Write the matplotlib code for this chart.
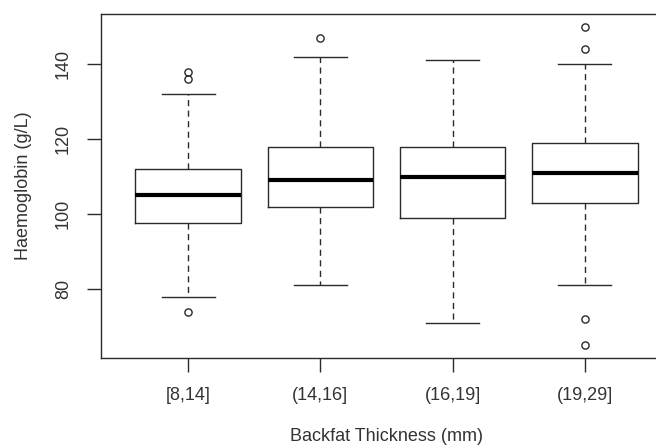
import matplotlib
matplotlib.use("Agg")
import matplotlib.pyplot as plt

plt.rcParams['font.family'] = ['Liberation Sans', 'DejaVu Sans']

# data
groups = ['[8,14]', '(14,16]', '(16,19]', '(19,29]']
q1 = [97.7, 102, 99, 103]
med = [105, 109, 110, 111]
q3 = [112, 118, 118, 119]
whislo = [78, 81, 71, 81]
whishi = [132, 142, 141, 140]
outliers = [[138, 136, 74], [147], [], [150, 144, 72, 65]]

stats = []
for i in range(len(groups)):
    stats.append(dict(label=groups[i], q1=q1[i], med=med[i], q3=q3[i],
                      whislo=whislo[i], whishi=whishi[i], fliers=outliers[i]))

fig = plt.figure(figsize=(6.56, 4.46), dpi=100)
ax = fig.add_axes([101/656, 88/446, 571/656, 344/446])

col = '#2a2a2a'
txt = '#333333'
ax.bxp(stats, positions=[1, 2, 3, 4], widths=0.8, showfliers=True,
       boxprops=dict(color=col, linewidth=1.0),
       medianprops=dict(color='black', linewidth=3.0),
       whiskerprops=dict(color=col, linewidth=1.0, linestyle=(0, (4.4, 3.2))),
       capprops=dict(color=col, linewidth=1.0),
       capwidths=0.4,
       flierprops=dict(marker='o', markerfacecolor='none', markeredgecolor=col,
                       markersize=5.2, markeredgewidth=1.0))

ax.set_xlim(0.34, 4.66)
ax.set_ylim(61.6, 153.4)
ax.set_yticks([80, 100, 120, 140])
ax.set_yticklabels(['80', '100', '120', '140'], rotation=90, va='center')
ax.set_xticks([1, 2, 3, 4])
ax.set_xticklabels(groups)

for s in ax.spines.values():
    s.set_color(col)
    s.set_linewidth(1.0)

ax.tick_params(axis='both', direction='out', length=10, width=1.0, color=col,
               labelsize=13, labelcolor=txt, pad=11)

ax.set_xlabel('Backfat Thickness (mm)', fontsize=13, color=txt, labelpad=17)
fig.text(23/656, 1 - 186/446, 'Haemoglobin (g/L)', rotation=90, fontsize=13,
         color=txt, ha='center', va='center')

fig.savefig('out.png', dpi=100)
